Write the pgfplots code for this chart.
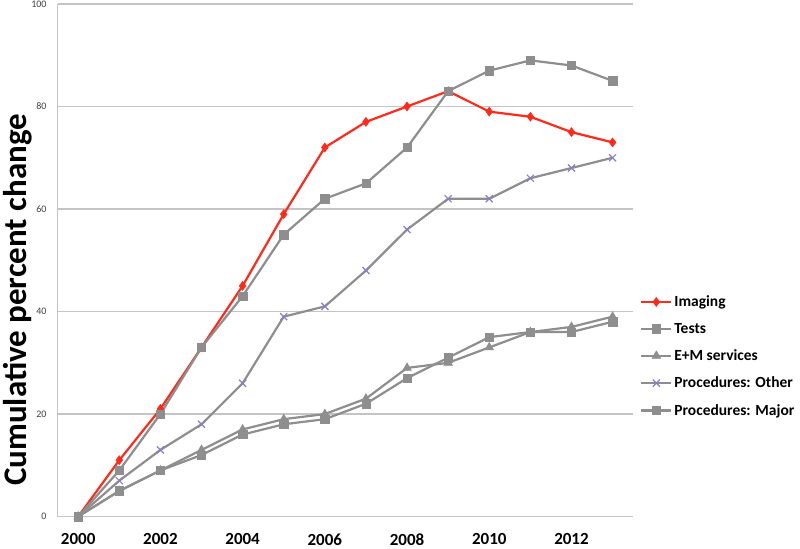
\documentclass[border=0pt]{standalone}
\usepackage{pgfplots}
\pgfplotsset{compat=1.18}
\usepackage{fontspec}
\setmainfont{Carlito}
\definecolor{lgray}{HTML}{8E8E8E}
\definecolor{gridc}{HTML}{C4C4C4}
\definecolor{imgred}{HTML}{FF2A1A}
\definecolor{purp}{HTML}{8A7CC8}
\begin{document}
\begin{tikzpicture}
\begin{axis}[
  at={(0,0)}, anchor=south west,
  scale only axis, width=576bp, height=513bp,
  xmin=1999.5, xmax=2013.5, ymin=0, ymax=100,
  xtick={2000,2002,...,2012}, ytick={0,20,...,100},
  /pgf/number format/assume math mode=true,
  xticklabel style={/pgf/number format/1000 sep={}, font=\fontsize{17bp}{20bp}\selectfont\bfseries, inner sep=0pt, anchor=north, yshift=-17bp},
  yticklabel style={font=\fontsize{10bp}{12bp}\selectfont, text=black!75, inner sep=0pt, anchor=east, xshift=-11bp},
  major tick length=0pt,
  axis x line=bottom, axis y line=left,
  axis line style={draw=gridc, line width=1.2bp, -},
  ymajorgrids, grid style={draw=gridc, line width=1.2bp},
  ylabel={Cumulative percent change},
  ylabel style={at={(axis description cs:-0.0694,0.423)}, anchor=center, rotate=0, font=\fontsize{33bp}{38bp}\selectfont\bfseries},
  legend style={at={(axis description cs:1.012,0.435)}, anchor=north west, draw=none, fill=none,
     font=\fontsize{15.5bp}{17bp}\selectfont\bfseries, row sep=11bp, inner sep=0pt},
  legend cell align=left,
  legend image code/.code={\draw[#1] (0bp,0bp) -- (30bp,0bp); \draw[#1, only marks] plot coordinates {(15bp,0bp)};},
  every axis plot/.append style={line width=2.2bp},
  clip=false,
]
\addplot[color=imgred, mark=diamond*, mark size=4.5bp, mark options={fill=imgred, line width=0.5bp}] coordinates {
(2000,0) (2001,11) (2002,21) (2003,33) (2004,45) (2005,59) (2006,72) (2007,77) (2008,80) (2009,83) (2010,79) (2011,78) (2012,75) (2013,73)};
\addlegendentry{Imaging}
\addplot[color=lgray, mark=square*, mark size=4.2bp, mark options={fill=lgray, line width=0.5bp}] coordinates {
(2000,0) (2001,9) (2002,20) (2003,33) (2004,43) (2005,55) (2006,62) (2007,65) (2008,72) (2009,83) (2010,87) (2011,89) (2012,88) (2013,85)};
\addlegendentry{Tests}
\addplot[color=lgray, mark=triangle*, mark size=5bp, mark options={fill=lgray, line width=0.5bp}] coordinates {
(2000,0) (2001,5) (2002,9) (2003,13) (2004,17) (2005,19) (2006,20) (2007,23) (2008,29) (2009,30) (2010,33) (2011,36) (2012,37) (2013,39)};
\addlegendentry{E+M services}
\addplot[color=lgray, mark=x, mark size=5bp, mark options={draw=purp, line width=1.2bp}] coordinates {
(2000,0) (2001,7) (2002,13) (2003,18) (2004,26) (2005,39) (2006,41) (2007,48) (2008,56) (2009,62) (2010,62) (2011,66) (2012,68) (2013,70)};
\addlegendentry{Procedures: Other}
\addplot[color=lgray, mark=square*, mark size=4.2bp, mark options={fill=lgray, line width=0.5bp}] coordinates {
(2000,0) (2001,5) (2002,9) (2003,12) (2004,16) (2005,18) (2006,19) (2007,22) (2008,27) (2009,31) (2010,35) (2011,36) (2012,36) (2013,38)};
\addlegendentry{Procedures: Major}
\end{axis}
\path[use as bounding box] (-57bp,-32bp) rectangle (743bp,517bp);
\end{tikzpicture}
\end{document}
